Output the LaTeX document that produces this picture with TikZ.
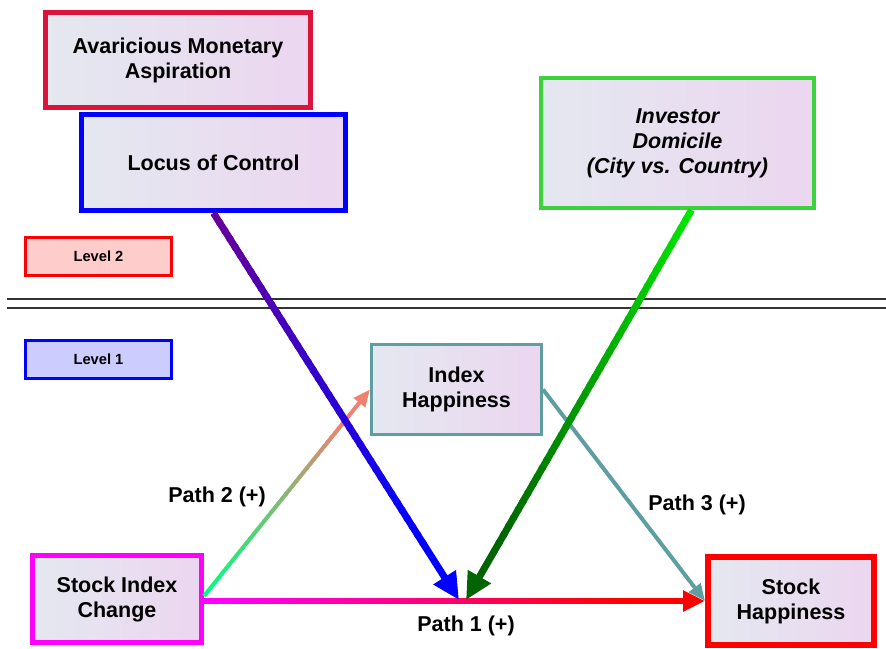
\documentclass[tikz,border=0pt]{standalone}
\usepackage{fontspec}
\setmainfont{Liberation Sans}
\usetikzlibrary{arrows.meta,calc,positioning}

\definecolor{boxl}{RGB}{228,232,240}
\definecolor{boxr}{RGB}{236,214,240}
\definecolor{crimson}{RGB}{220,20,60}
\definecolor{limeg}{RGB}{60,210,60}
\definecolor{tealc}{RGB}{95,158,160}
\definecolor{purp}{RGB}{102,0,153}
\definecolor{brightg}{RGB}{0,230,0}
\definecolor{darkg}{RGB}{0,100,0}
\definecolor{springg}{RGB}{0,255,128}
\definecolor{salmonc}{RGB}{240,128,112}
\definecolor{hotred}{RGB}{255,0,0}
\definecolor{fuchsia}{RGB}{255,0,255}
\definecolor{pureblue}{RGB}{0,0,255}
\definecolor{lvlpink}{RGB}{255,204,204}
\definecolor{lvlblue}{RGB}{204,204,255}

\tikzset{
  construct/.style={draw, align=center, inner sep=0pt, left color=boxl, right color=boxr,
    font=\bfseries\fontsize{21.5}{25}\selectfont},
  levelbox/.style={draw, line width=3pt, inner sep=0pt, minimum width=146pt, minimum height=38pt,
    font=\bfseries\fontsize{14.7}{17}\selectfont},
  pathlabel/.style={font=\bfseries\fontsize{21.5}{25}\selectfont},
  bigtip/.style={-{Triangle[length=27pt,width=25pt]}},
  midtip/.style={-{Triangle[length=22pt,width=20pt]}},
  smalltip/.style={-{Triangle[length=17pt,width=14pt]}},
}

% line with a colour running from #3 to #4, tip at the end
\newcommand{\gradedge}[6]{%
  \foreach \k in {0,...,39}{%
    \pgfmathsetmacro{\ta}{0.85*\k/40}%
    \pgfmathsetmacro{\tb}{0.85*(\k+1.3)/40}%
    \pgfmathtruncatemacro{\mixpc}{100*\k/39}%
    \draw[#1, color=#4!\mixpc!#3] ($(#5)!\ta!(#6)$) -- ($(#5)!\tb!(#6)$) ;
  }%
  \draw[#1, #2, color=#4] ($(#5)!0.85!(#6)$) -- (#6) ;
}

\begin{document}
\begin{tikzpicture}[x=1pt, y=-1pt]
    \useasboundingbox (0,0) rectangle (886,648) ;

    % level 2
    \node[construct, draw=crimson, line width=5pt, minimum width=265pt, minimum height=95pt] (ama) at (178,60) {Avaricious Monetary\\Aspiration} ;
    \node[construct, draw=pureblue, line width=5pt, minimum width=264pt, minimum height=96pt] (loc) at (213.5,162.5) {Locus of Control} ;
    \node[construct, draw=limeg, line width=4pt, minimum width=273pt, minimum height=130pt,
      font=\bfseries\itshape\fontsize{21.5}{25}\selectfont] (dom) at (677.5,143) {Investor\\Domicile\\(City vs. Country)} ;

    \node[levelbox, draw=hotred, fill=lvlpink] (lvl2) at (98.5,256.5) {Level 2} ;
    \node[levelbox, draw=pureblue, fill=lvlblue, below=62pt of lvl2] (lvl1) {Level 1} ;

    \draw[line width=1.5pt, black!80] (7,299) -- (886,299) ;
    \draw[line width=1.5pt, black!80] (7,308) -- (886,308) ;

    % level 1
    \node[construct, draw=tealc, line width=3pt, minimum width=170pt, minimum height=90pt] (idx) at (456.5,389.5) {Index\\Happiness} ;
    \node[construct, draw=fuchsia, line width=5pt, minimum width=169pt, minimum height=87pt] (sic) at (117,599) {Stock Index\\Change} ;
    \node[construct, draw=hotred, line width=6pt, minimum width=166pt, minimum height=88pt] (sh) at (791,601) {Stock\\Happiness} ;

    \coordinate (p1a) at ([yshift=-2pt]sic.east) ;
    \coordinate (p2a) at ([yshift=3pt]sic.east) ;
    \coordinate (domfoot) at ([xshift=14pt]dom.south) ;
    \coordinate (j1) at (459,600) ;
    \coordinate (j2) at (466,600) ;

    \gradedge{line width=6pt}{midtip}{fuchsia}{hotred}{p1a}{sh.west}
    \gradedge{line width=4pt}{smalltip}{springg}{salmonc}{p2a}{idx.west}
    \draw[tealc, line width=4pt, smalltip] (idx.east) -- (sh.west) ;
    \gradedge{line width=7pt}{bigtip}{purp}{pureblue}{loc.south}{j1}
    \gradedge{line width=7pt}{bigtip}{brightg}{darkg}{domfoot}{j2}

    \node[pathlabel] (lab2) at (217,497) {Path 2 (+)} ;
    \node[pathlabel] (lab3) at (697,505) {Path 3 (+)} ;
    \node[pathlabel] (lab1) at (466,626) {Path 1 (+)} ;
\end{tikzpicture}
\end{document}
